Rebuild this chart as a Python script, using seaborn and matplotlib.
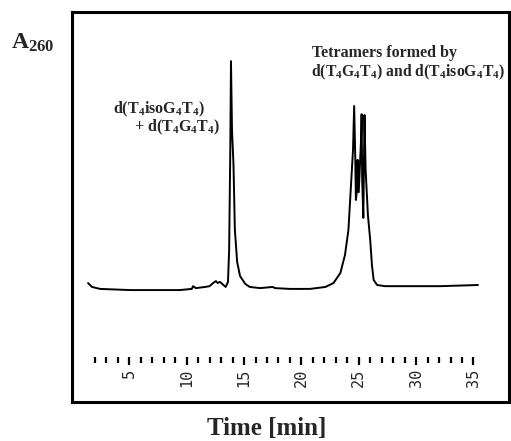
import numpy as np
import pandas as pd
import matplotlib
matplotlib.use("Agg")
import matplotlib.pyplot as plt
import seaborn as sns

# Chromatogram trace (time in min, relative A260)
time_min = [1.4, 1.74, 2.44, 5.06, 6.8, 9.4, 10.45, 10.55, 10.8, 11.6, 12.0, 12.3,
            12.55, 12.7, 12.9, 13.2, 13.4, 13.6, 13.7, 13.8, 13.86, 13.95, 14.08,
            14.2, 14.4, 14.65, 15.1, 15.5, 16.4, 17.5, 17.7, 19.0, 20.75, 22.1,
            22.8, 23.4, 23.8, 24.1, 24.3, 24.5, 24.6, 24.7, 24.75, 24.85, 24.9,
            25.0, 25.2, 25.25, 25.3, 25.4, 25.5, 25.6, 25.8, 26.0, 26.15, 26.3,
            26.6, 27.3, 30.3, 32.1, 35.4]
absorbance = [0.305, 0.295, 0.290, 0.287, 0.287, 0.287, 0.290, 0.297, 0.292, 0.295,
              0.297, 0.305, 0.310, 0.305, 0.308, 0.300, 0.295, 0.308, 0.390, 0.646,
              0.874, 0.697, 0.608, 0.441, 0.359, 0.323, 0.303, 0.295, 0.292, 0.295,
              0.292, 0.290, 0.290, 0.295, 0.305, 0.331, 0.377, 0.441, 0.544, 0.646,
              0.759, 0.621, 0.518, 0.544, 0.621, 0.538, 0.672, 0.738, 0.569, 0.472,
              0.736, 0.595, 0.479, 0.415, 0.351, 0.313, 0.300, 0.297, 0.297, 0.297,
              0.300]

minor_ticks = list(range(2, 36))
major_ticks = [5, 10, 15, 20, 25, 30, 35]
major_labels = ["5", "10", "15", "20", "25", "30", "35"]

df = pd.DataFrame({"time": time_min, "A260": absorbance})

sns.set_style("white")
plt.rcParams["font.family"] = ["Liberation Serif", "DejaVu Serif"]
plt.rcParams["mathtext.fontset"] = "custom"
plt.rcParams["mathtext.rm"] = "Liberation Serif:bold"
plt.rcParams["mathtext.bf"] = "Liberation Serif:bold"
plt.rcParams["mathtext.it"] = "Liberation Serif:bold"
plt.rcParams["mathtext.default"] = "bf"

fig = plt.figure(figsize=(5.11, 4.41), dpi=100)
ax = fig.add_axes([72 / 511, 1 - 402 / 441, (509 - 72) / 511, 390 / 441])

sns.lineplot(data=df, x="time", y="A260", ax=ax, color="black", linewidth=1.4,
             estimator=None, sort=False)

ax.set_xlim(0, 38.1)
ax.set_ylim(0, 1)
ax.set_xticks([])
ax.set_yticks([])
ax.set_xlabel("")
ax.set_ylabel("")
for s in ax.spines.values():
    s.set_visible(True)
    s.set_linewidth(2.2)
    s.set_color("black")

# in-plot time scale
sec = ax.secondary_xaxis(0.115)
sec.spines["bottom"].set_visible(False)
sec.spines["top"].set_visible(False)
sec.set_xticks(minor_ticks, minor=True)
sec.set_xticks(major_ticks)
sec.set_xticklabels(major_labels, rotation=90, family="DejaVu Sans Mono",
                    fontsize=11, va="top")
sec.tick_params(axis="x", which="minor", direction="out", length=4.5, width=1.6,
                color="black")
sec.tick_params(axis="x", which="major", direction="out", length=5.5, width=1.6,
                color="black", pad=3)

fig.text(11 / 511, 1 - 43 / 441, r"A$_{260}$", fontsize=17, fontweight="bold",
         ha="left", va="center")

ax.text(11.6, 0.749, r"d(T$_4$isoG$_4$T$_4$)", fontsize=11.5, fontweight="bold",
        ha="right", va="center")
ax.text(12.9, 0.703, r"+ d(T$_4$G$_4$T$_4$)", fontsize=11.5, fontweight="bold",
        ha="right", va="center")
ax.text(20.9, 0.895, "Tetramers formed by", fontsize=11.5, fontweight="bold",
        ha="left", va="center")
ax.text(20.8, 0.846, r"d(T$_4$G$_4$T$_4$) and d(T$_4$isoG$_4$T$_4$)", fontsize=11.3,
        fontweight="bold", ha="left", va="center")

fig.text(267 / 511, 1 - 429 / 441, "Time [min]", fontsize=18, fontweight="bold",
         ha="center", va="center")

fig.savefig("out.png", dpi=100)
